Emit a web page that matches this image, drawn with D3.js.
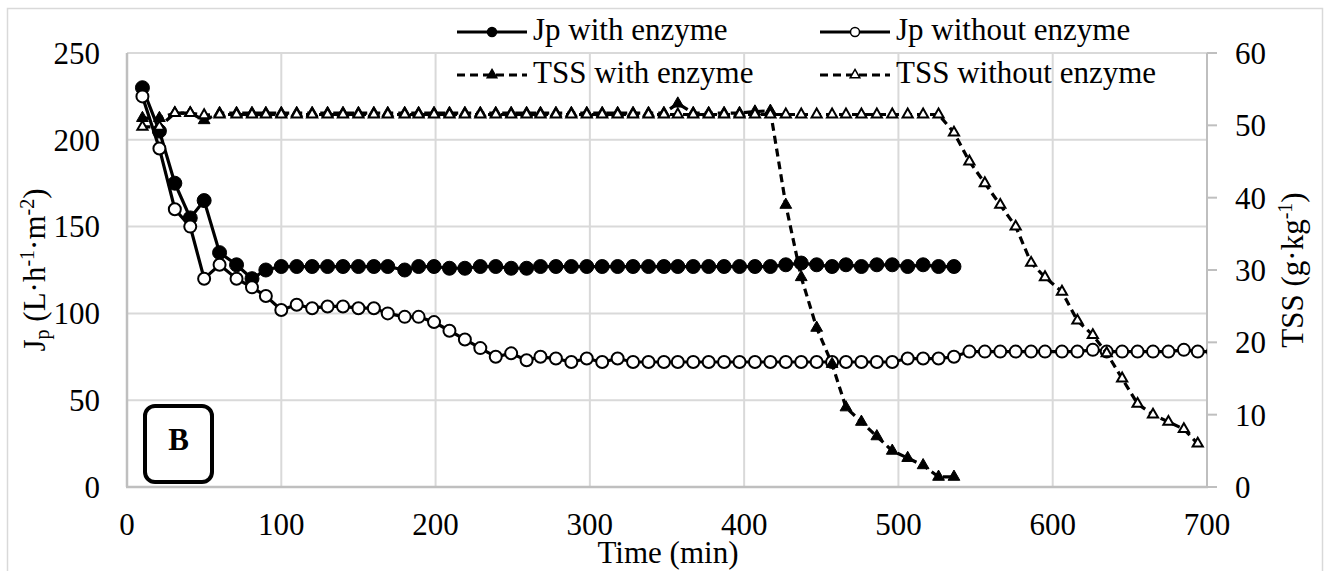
<!DOCTYPE html>
<html>
<head>
<meta charset="utf-8">
<script src="https://cdn.jsdelivr.net/npm/d3@7"></script>
<style>
  body { margin: 0; background: #fff; }
  svg, svg text { font-family: "Liberation Serif", "Times New Roman", Times, "DejaVu Serif", serif; }
</style>
</head>
<body>
<div id="chart-container"></div>
<script>

// time points (min), shared by both runs up to ~536
const timeWith = [10,21,31,41,50,60,71,81,90,100,
    110,120,130,140,150,160,169,180,189,199,
    209,219,229,239,249,259,268,278,288,298,
    308,318,328,338,348,357,367,377,387,397,
    407,417,427,437,447,457,466,476,486,496,
    506,516,526,536]
const timeWithout = timeWith.concat([546,556,566,576,586,595,606,616,626,635,645,655,665,675,685,694])

// permeate flux Jp (L.h-1.m-2)
const jpWith = [230,205,175,155,165,135,128,120,125,127,
    127,127,127,127,127,127,127,125,127,127,
    126,126,127,127,126,126,127,127,127,127,
    127,127,127,127,127,127,127,127,127,127,
    127,127,128,129,128,127,128,127,128,128,
    127,128,127,127]
const jpWithout = [225,195,160,150,120,128,120,115,110,102,
    105,103,104,104,103,103,100,98,98,95,
    90,85,80,75,77,73,75,74,72,74,
    72,74,72,72,72,72,72,72,72,72,
    72,72,72,72,72,72,72,72,72,72,
    74,74,74,75,78,78,78,78,78,78,
    78,78,79,78,78,78,78,78,79,78]

// total suspended solids (g.kg-1)
const tssWith = [51,51,51.7,51.7,50.7,51.7,51.7,51.7,51.7,51.7,
    51.7,51.7,51.7,51.7,51.7,51.7,51.7,51.7,51.7,51.7,
    51.7,51.7,51.7,51.7,51.7,51.7,51.7,51.7,51.7,51.7,
    51.7,51.7,51.7,51.7,51.7,53,51.7,51.7,51.7,51.7,
    51.9,52,39,29,22,17,11,9,7,5,
    4,3,1.4,1.4]
const tssWithout = [49.8,49.8,51.7,51.7,51.4,51.5,51.5,51.5,51.5,51.5,
    51.5,51.5,51.5,51.5,51.5,51.5,51.5,51.5,51.5,51.5,
    51.5,51.5,51.5,51.5,51.5,51.5,51.5,51.5,51.5,51.5,
    51.5,51.5,51.5,51.5,51.5,51.5,51.5,51.5,51.5,51.5,
    51.5,51.5,51.5,51.5,51.5,51.5,51.5,51.5,51.5,51.5,
    51.5,51.5,51.5,49,45,42,39,36,31,29,
    27,23,21,18.5,15,11.5,10,9,8,6]

// axis ticks
const xTicks = [0,100,200,300,400,500,600,700]
const yLeftTicks = [0,50,100,150,200,250]
const yRightTicks = [0,10,20,30,40,50,60]

const seriesNames = ["Jp with enzyme", "Jp without enzyme", "TSS with enzyme", "TSS without enzyme"]

// setting constants
const width = 1330
const height = 571
const plot = {left: 127, right: 1207, top: 53, bottom: 487}
const fontSize = 31
const fontFamily = "'Liberation Serif', 'Times New Roman', Times, 'DejaVu Serif', serif"

const xScale = d3.scaleLinear().domain([0, 700]).range([plot.left, plot.right])
const yLeft = d3.scaleLinear().domain([0, 250]).range([plot.bottom, plot.top])
const yRight = d3.scaleLinear().domain([0, 60]).range([plot.bottom, plot.top])

const svg = d3.select("#chart-container")
    .append("svg")
    .attr("width", width)
    .attr("height", height)
    .attr("font-family", fontFamily)

// outer chart border
svg.append("rect")
    .attr("x", 7.5).attr("y", 8.5)
    .attr("width", 1315).attr("height", 620)
    .attr("fill", "none")
    .attr("stroke", "#d9d9d9")
    .attr("stroke-width", 1.5)

svg.append("clipPath").attr("id", "plot-clip")
    .append("rect")
    .attr("x", plot.left).attr("y", 0)
    .attr("width", plot.right - plot.left).attr("height", plot.bottom + 20)

// gridlines
svg.append("g")
    .selectAll("line")
    .data(yLeftTicks.filter(d => d > 0))
    .join("line")
    .attr("x1", plot.left).attr("x2", plot.right)
    .attr("y1", d => yLeft(d)).attr("y2", d => yLeft(d))
    .attr("stroke", "#d9d9d9").attr("stroke-width", 2)

svg.append("g")
    .selectAll("line")
    .data(xTicks.filter(d => d > 0 && d < 700))
    .join("line")
    .attr("x1", d => xScale(d)).attr("x2", d => xScale(d))
    .attr("y1", plot.top).attr("y2", plot.bottom)
    .attr("stroke", "#d9d9d9").attr("stroke-width", 2)

// axis lines
svg.append("line")
    .attr("x1", plot.left).attr("x2", plot.left)
    .attr("y1", plot.top).attr("y2", plot.bottom)
    .attr("stroke", "#bfbfbf").attr("stroke-width", 2.5)
svg.append("line")
    .attr("x1", plot.right).attr("x2", plot.right)
    .attr("y1", plot.top).attr("y2", plot.bottom)
    .attr("stroke", "#bfbfbf").attr("stroke-width", 2)
svg.append("line")
    .attr("x1", plot.left - 1).attr("x2", plot.right + 1)
    .attr("y1", plot.bottom).attr("y2", plot.bottom)
    .attr("stroke", "#bfbfbf").attr("stroke-width", 2.5)

// right axis tick marks
svg.append("g")
    .selectAll("line")
    .data(yRightTicks)
    .join("line")
    .attr("x1", plot.right).attr("x2", plot.right + 10)
    .attr("y1", d => yRight(d)).attr("y2", d => yRight(d))
    .attr("stroke", "#bfbfbf").attr("stroke-width", 2)

// tick labels
svg.append("g")
    .selectAll("text")
    .data(xTicks)
    .join("text")
    .attr("x", d => xScale(d))
    .attr("y", 535)
    .attr("text-anchor", "middle")
    .attr("font-size", fontSize)
    .text(d => d)

svg.append("g")
    .selectAll("text")
    .data(yLeftTicks)
    .join("text")
    .attr("x", 100)
    .attr("y", d => yLeft(d))
    .attr("dy", "0.35em")
    .attr("text-anchor", "end")
    .attr("font-size", fontSize)
    .text(d => d)

svg.append("g")
    .selectAll("text")
    .data(yRightTicks)
    .join("text")
    .attr("x", 1235)
    .attr("y", d => yRight(d))
    .attr("dy", "0.35em")
    .attr("text-anchor", "start")
    .attr("font-size", fontSize)
    .text(d => d)

// axis titles
svg.append("text")
    .attr("x", 668).attr("y", 563)
    .attr("text-anchor", "middle")
    .attr("font-size", fontSize)
    .text("Time (min)")

const leftTitle = svg.append("text")
    .attr("transform", "translate(45, 270) rotate(-90)")
    .attr("text-anchor", "middle")
    .attr("font-size", fontSize)
leftTitle.append("tspan").text("J")
leftTitle.append("tspan").attr("font-size", 20).attr("baseline-shift", "-20%").text("p")
leftTitle.append("tspan").text(" (L·h")
leftTitle.append("tspan").attr("font-size", 20).attr("baseline-shift", "super").text("-1")
leftTitle.append("tspan").text("·m")
leftTitle.append("tspan").attr("font-size", 20).attr("baseline-shift", "super").text("-2")
leftTitle.append("tspan").text(")")

const rightTitle = svg.append("text")
    .attr("transform", "translate(1303, 270) rotate(-90)")
    .attr("text-anchor", "middle")
    .attr("font-size", fontSize)
rightTitle.append("tspan").text("TSS (g·kg")
rightTitle.append("tspan").attr("font-size", 20).attr("baseline-shift", "super").text("-1")
rightTitle.append("tspan").text(")")

// series
const series = [
    {name: seriesNames[0], t: timeWith, v: jpWith, y: yLeft, marker: "circle", fill: "#000", dash: null},
    {name: seriesNames[1], t: timeWithout.concat([704]), v: jpWithout.concat([78]), y: yLeft, marker: "circle", fill: "#fff", dash: null},
    {name: seriesNames[2], t: timeWith, v: tssWith, y: yRight, marker: "triangle", fill: "#000", dash: "8,5"},
    {name: seriesNames[3], t: timeWithout, v: tssWithout, y: yRight, marker: "triangle", fill: "#fff", dash: "8,5"}
]

const plotG = svg.append("g").attr("clip-path", "url(#plot-clip)")

series.forEach(s => {
    const pts = s.t.map((t, i) => [t, s.v[i]])
    const line = d3.line()
        .x(d => xScale(d[0]))
        .y(d => s.y(d[1]))

    plotG.append("path")
        .datum(pts)
        .attr("d", line)
        .attr("fill", "none")
        .attr("stroke", "#000")
        .attr("stroke-width", 3.2)
        .attr("stroke-dasharray", s.dash)

    if (s.marker === "circle") {
        plotG.append("g")
            .selectAll("circle")
            .data(pts)
            .join("circle")
            .attr("cx", d => xScale(d[0]))
            .attr("cy", d => s.y(d[1]))
            .attr("r", s.fill === "#000" ? 7 : 6)
            .attr("fill", s.fill)
            .attr("stroke", "#000")
            .attr("stroke-width", s.fill === "#000" ? 1 : 2)
    } else {
        plotG.append("g")
            .selectAll("path")
            .data(pts)
            .join("path")
            .attr("transform", d => `translate(${xScale(d[0])},${s.y(d[1])})`)
            .attr("d", d3.symbol(d3.symbolTriangle, s.fill === "#000" ? 60 : 45))
            .attr("fill", s.fill)
            .attr("stroke", "#000")
            .attr("stroke-width", s.fill === "#000" ? 1 : 2)
    }
})

// legend, two rows of two
const legendPos = [[457, 32], [820, 32], [457, 75], [820, 75]]
series.forEach((s, i) => {
    const [lx, ly] = legendPos[i]
    const g = svg.append("g")
    g.append("line")
        .attr("x1", lx).attr("x2", lx + 70)
        .attr("y1", ly).attr("y2", ly)
        .attr("stroke", "#000")
        .attr("stroke-width", 3.2)
        .attr("stroke-dasharray", s.dash)
    if (s.marker === "circle") {
        g.append("circle")
            .attr("cx", lx + 35).attr("cy", ly).attr("r", 4.5)
            .attr("fill", s.fill).attr("stroke", "#000").attr("stroke-width", 1.5)
    } else {
        g.append("path")
            .attr("transform", `translate(${lx + 35},${ly})`)
            .attr("d", d3.symbol(d3.symbolTriangle, 40))
            .attr("fill", s.fill).attr("stroke", "#000").attr("stroke-width", 1.5)
    }
    g.append("text")
        .attr("x", lx + 76)
        .attr("y", ly + 8)
        .attr("font-size", fontSize)
        .text(s.name)
})

// panel label
svg.append("rect")
    .attr("x", 145).attr("y", 406)
    .attr("width", 67).attr("height", 76)
    .attr("rx", 10)
    .attr("fill", "#fff")
    .attr("stroke", "#000")
    .attr("stroke-width", 4)
svg.append("text")
    .attr("x", 178.5).attr("y", 450)
    .attr("text-anchor", "middle")
    .attr("font-size", 31)
    .attr("font-weight", "bold")
    .text("B")

</script>
</body>
</html>
